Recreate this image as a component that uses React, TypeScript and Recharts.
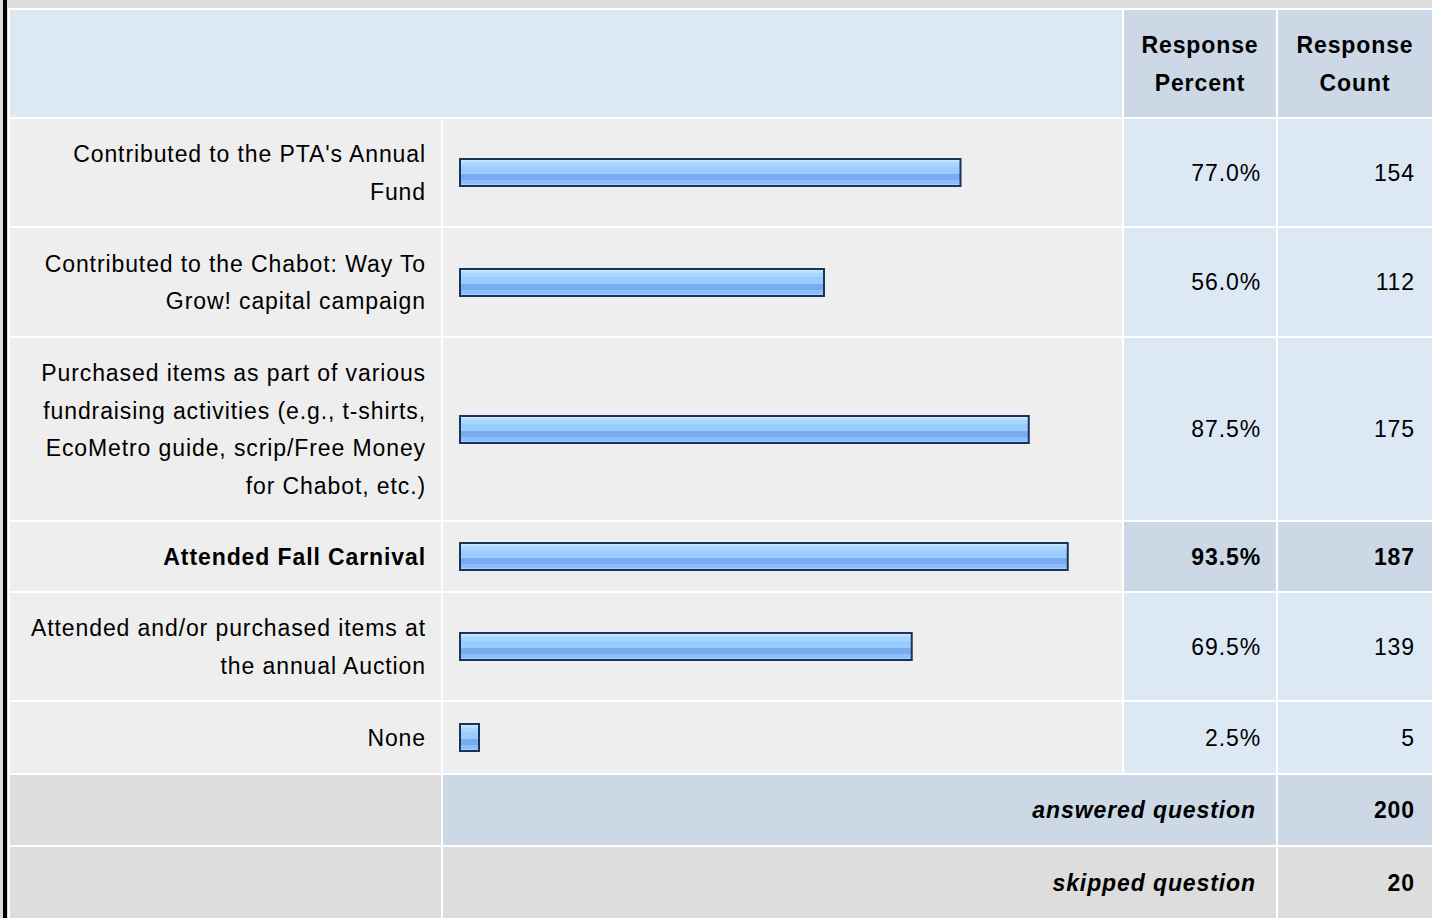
import React from "react";
import { BarChart, Bar, XAxis, YAxis } from "recharts";

const answers = [
  "Contributed to the PTA's Annual\nFund",
  "Contributed to the Chabot: Way To\nGrow! capital campaign",
  "Purchased items as part of various\nfundraising activities (e.g., t-shirts,\nEcoMetro guide, scrip/Free Money\nfor Chabot, etc.)",
  "Attended Fall Carnival",
  "Attended and/or purchased items at\nthe annual Auction",
  "None",
];
const responsePercent = [77.0, 56.0, 87.5, 93.5, 69.5, 2.5];
const responseCount = [154, 112, 175, 187, 139, 5];
const answeredQuestion = 200;
const skippedQuestion = 20;

// row that gets highlighted (the top answer)
const TOP_ROW = 3;

const ROW_HEIGHTS = [107, 108, 182, 69, 107, 71];
const FONT = "'Liberation Sans', Arial, Helvetica, sans-serif";

const C = {
  header: "#dde8f5",
  headerDark: "#ccd8e6",
  cell: "#eeeeee",
  pctCell: "#dde8f5",
  grey: "#dddddd",
  text: "#000000",
};

const text: React.CSSProperties = {
  fontFamily: FONT,
  fontSize: 23,
  lineHeight: "37.5px",
  letterSpacing: 0.9,
  color: C.text,
};

function RowBar({ idx, height }: { idx: number; height: number }) {
  const data = [{ name: answers[idx], value: responsePercent[idx] }];
  const gid = `barFill${idx}`;
  return (
    <BarChart
      width={679}
      height={height}
      data={data}
      layout="vertical"
      margin={{ top: 0, right: 12, bottom: 0, left: 17 }}
    >
      <defs>
        <linearGradient id={gid} x1="0" y1="0" x2="0" y2="1">
          <stop offset="0%" stopColor="#cfe8ff" />
          <stop offset="8%" stopColor="#cfe8ff" />
          <stop offset="8%" stopColor="#badeff" />
          <stop offset="16%" stopColor="#badeff" />
          <stop offset="16%" stopColor="#a7d5ff" />
          <stop offset="31%" stopColor="#a7d5ff" />
          <stop offset="31%" stopColor="#9acdff" />
          <stop offset="54%" stopColor="#9acdff" />
          <stop offset="54%" stopColor="#79acef" />
          <stop offset="77%" stopColor="#79acef" />
          <stop offset="77%" stopColor="#8abeff" />
          <stop offset="92%" stopColor="#8abeff" />
          <stop offset="92%" stopColor="#a2d0ff" />
          <stop offset="100%" stopColor="#a2d0ff" />
        </linearGradient>
      </defs>
      <XAxis type="number" domain={[0, 100]} hide />
      <YAxis type="category" dataKey="name" hide />
      <Bar
        dataKey="value"
        barSize={27}
        fill={`url(#${gid})`}
        stroke="#1b3356"
        strokeWidth={2}
        minPointSize={19}
        isAnimationActive={false}
      />
    </BarChart>
  );
}

function Cell({
  bg,
  align = "right",
  pad = 16,
  bold = false,
  italic = false,
  span,
  children,
}: {
  bg: string;
  align?: "left" | "right" | "center";
  pad?: number;
  bold?: boolean;
  italic?: boolean;
  span?: number;
  children?: React.ReactNode;
}) {
  return (
    <div
      style={{
        ...text,
        background: bg,
        display: "flex",
        alignItems: "center",
        justifyContent:
          align === "right" ? "flex-end" : align === "center" ? "center" : "flex-start",
        textAlign: align,
        paddingRight: align === "right" ? pad : 0,
        paddingTop: 2,
        boxSizing: "border-box",
        fontWeight: bold ? "bold" : "normal",
        fontStyle: italic ? "italic" : "normal",
        whiteSpace: "pre-line",
        gridColumn: span ? `span ${span}` : undefined,
        overflow: "hidden",
      }}
    >
      {children}
    </div>
  );
}

export default function App() {
  return (
    <div
      style={{
        position: "absolute",
        left: 0,
        top: 0,
        width: 1432,
        height: 918,
        background: C.grey,
        overflow: "hidden",
      }}
    >
      <div style={{ position: "absolute", left: 3, top: 0, width: 4, height: 918, background: "#000" }} />
      <div
        style={{
          position: "absolute",
          left: 8,
          top: 8,
          width: 1424,
          height: 910,
          background: "#ffffff",
          padding: 2,
          paddingRight: 0,
          boxSizing: "border-box",
          display: "grid",
          gridTemplateColumns: "431px 679px 152px 154px",
          gridTemplateRows: `107px ${ROW_HEIGHTS.map((h) => h + "px").join(" ")} 70px 71px`,
          gap: 2,
        }}
      >
        <Cell bg={C.header} span={2} />
        <Cell bg={C.headerDark} align="center" bold>
          {"Response\nPercent"}
        </Cell>
        <Cell bg={C.headerDark} align="center" bold>
          {"Response\nCount"}
        </Cell>

        {answers.map((a, i) => {
          const top = i === TOP_ROW;
          return (
            <React.Fragment key={i}>
              <Cell bg={C.cell} bold={top} pad={15}>
                {a}
              </Cell>
              <div style={{ background: C.cell }}>
                <RowBar idx={i} height={ROW_HEIGHTS[i]} />
              </div>
              <Cell bg={top ? C.headerDark : C.pctCell} bold={top} pad={15}>
                {responsePercent[i].toFixed(1) + "%"}
              </Cell>
              <Cell bg={top ? C.headerDark : C.pctCell} bold={top} pad={17}>
                {responseCount[i]}
              </Cell>
            </React.Fragment>
          );
        })}

        <Cell bg={C.grey} />
        <Cell bg={C.headerDark} span={2} bold italic pad={20}>
          answered question
        </Cell>
        <Cell bg={C.headerDark} bold pad={17}>
          {answeredQuestion}
        </Cell>

        <Cell bg={C.grey} />
        <Cell bg={C.grey} span={2} bold italic pad={20}>
          skipped question
        </Cell>
        <Cell bg={C.grey} bold pad={17}>
          {skippedQuestion}
        </Cell>
      </div>
    </div>
  );
}
